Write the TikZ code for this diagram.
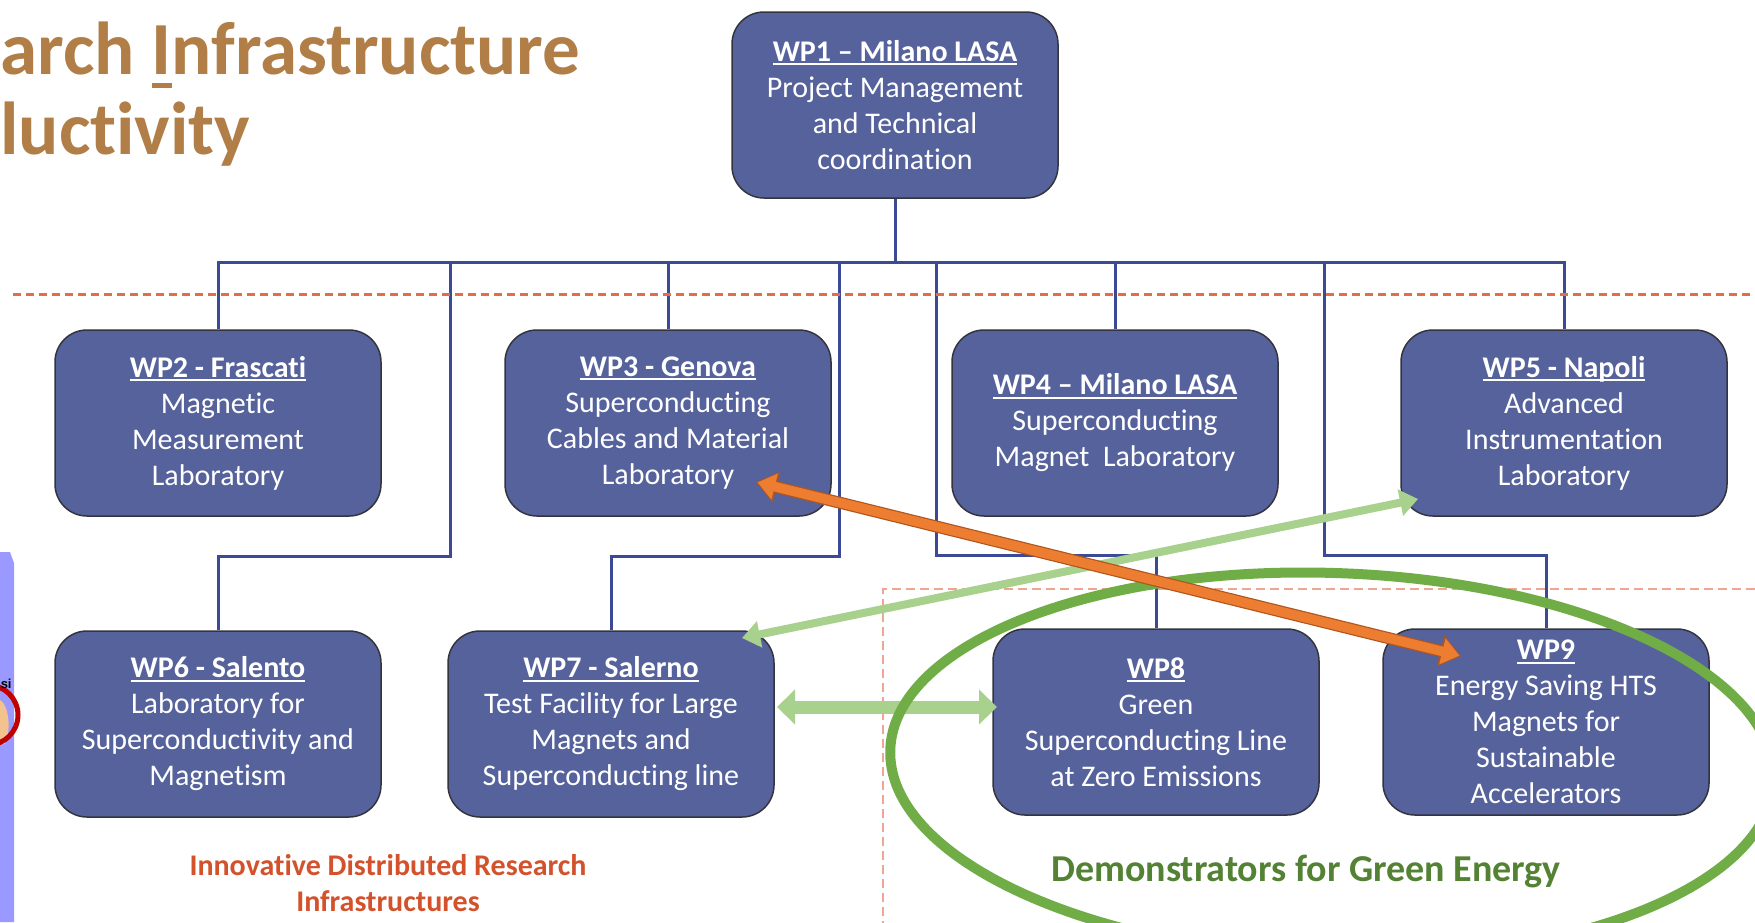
\documentclass[tikz,border=0pt]{standalone}
\usepackage{fontspec}
\setmainfont{Carlito}[Ligatures=NoCommon, Contextuals=NoAlternate]
\newfontfamily\labelsans{Liberation Sans}
\usetikzlibrary{arrows.meta}

\definecolor{boxfill}{RGB}{86,98,156}
\definecolor{boxedge}{RGB}{52,52,62}
\definecolor{connblue}{RGB}{58,74,150}
\definecolor{titlebrown}{RGB}{176,126,70}
\definecolor{dashred}{RGB}{226,110,70}
\definecolor{dashsalmon}{RGB}{240,165,145}
\definecolor{ringgreen}{RGB}{112,173,71}
\definecolor{palegreen}{RGB}{169,209,142}
\definecolor{arroworange}{RGB}{237,125,49}
\definecolor{arrowedge}{RGB}{175,85,30}
\definecolor{textgreen}{RGB}{84,130,53}
\definecolor{textorange}{RGB}{211,82,44}
\definecolor{lavender}{RGB}{153,153,255}
\definecolor{ringred}{RGB}{192,0,0}
\definecolor{peach}{RGB}{244,194,140}

% underlined bold header of a work package
\newsavebox\hdbox
\newcommand\wphead[1]{\sbox\hdbox{\bfseries #1}\rlap{\rule[-2pt]{\wd\hdbox}{1.1pt}}\usebox\hdbox}
% heavy underline under a single title letter
\newcommand\ulglyph[1]{\sbox\hdbox{#1}\rlap{\rule[-7pt]{\wd\hdbox}{2.4pt}}\usebox\hdbox}

\tikzset{
  wpbox/.style={draw=boxedge, line width=0.75pt, fill=boxfill, rounded corners=16pt,
    minimum width=163pt, minimum height=93pt, align=center, text=white, inner sep=0pt,
    font=\fontsize{15}{18}\selectfont},
  conn/.style={draw=connblue, line width=1.5pt},
  titletext/.style={inner sep=0pt, text=titlebrown, font=\fontsize{37.5}{40}\selectfont\bfseries},
  rowdash/.style={draw=dashred, line width=1.5pt, dash pattern=on 4pt off 2.5pt},
  groupdash/.style={draw=dashsalmon, line width=1.1pt, dash pattern=on 4.5pt off 2.5pt},
  ring/.style={draw=ringgreen, line width=5pt},
  thinlink/.style={draw=palegreen, line width=4pt, >={Triangle[length=9pt,width=13pt]}, <->},
  widelink/.style={draw=palegreen, line width=6.5pt, >={Triangle[length=9pt,width=17pt]}, <->},
  swapedge/.style={draw=arrowedge, line width=6pt, >={Triangle[length=10.5pt,width=15pt]}, <->},
  swapfill/.style={draw=arroworange, line width=4.8pt, >={Triangle[length=8.8pt,width=12.8pt]}, <->,
    shorten <=0.8pt, shorten >=0.8pt}
}

\begin{document}
\begin{tikzpicture}[x=0.5pt, y=-0.5pt]
\useasboundingbox (0,0) rectangle (1755,922);
\fill[white] (0,0) rectangle (1755,922);

% title fragment at the top left
\node[titletext, anchor=base west] (title1) at (0,74) {arch \ulglyph{I}nfrastructure};
\node[titletext, anchor=base west] (title2) at (0,154) {luctivity};

% strip at the left edge
\fill[lavender] (0,552) -- (10,552) -- (14,563) -- (14,922) -- (0,922) -- cycle;
\fill[peach] (0,700) .. controls (8,704) and (12,728) .. (5,744) -- (0,744) -- cycle;
\draw[ringred, line width=2.5pt] (-12,715) circle (30);
\node[anchor=base east, inner sep=0pt, font=\labelsans\fontsize{6.5}{7}\selectfont\bfseries] (pisa) at (12,688) {si};

% work packages
\node[wpbox] (wp1) at (895,105) {\wphead{WP1 – Milano LASA}\\Project Management\\and Technical\\coordination};
\node[wpbox] (wp2) at (218,423) {\wphead{WP2 - Frascati}\\Magnetic\\Measurement\\Laboratory};
\node[wpbox] (wp3) at (668,423) {\wphead{WP3 - Genova}\\Superconducting\\Cables and Material\\Laboratory};
\node[wpbox] (wp4) at (1115,423) {\wphead{WP4 – Milano LASA}\\Superconducting\\Magnet~ Laboratory};
\node[wpbox] (wp5) at (1564,423) {\wphead{WP5 - Napoli}\\Advanced\\Instrumentation\\Laboratory};
\node[wpbox] (wp6) at (218,724) {\wphead{WP6 - Salento}\\Laboratory for\\Superconductivity and\\Magnetism};
\node[wpbox] (wp7) at (611,724) {\wphead{WP7 - Salerno}\\Test Facility for Large\\Magnets and\\Superconducting line};
\node[wpbox] (wp8) at (1156,722) {\wphead{WP8}\\Green\\Superconducting Line\\at Zero Emissions};
\node[wpbox] (wp9) at (1546,722) {\wphead{WP9}\\Energy Saving HTS\\Magnets for\\Sustainable\\Accelerators};

% tree of connectors
\coordinate (hub) at (895,262);
\draw[conn] (wp1.south) -- (hub);
\draw[conn] (hub) -| (wp2.north);
\draw[conn] (hub) -| (wp3.north);
\draw[conn] (hub) -| (wp4.north);
\draw[conn] (hub) -| (wp5.north);
\draw[conn] (hub) -| (450,556) -| (wp6.north);
\draw[conn] (hub) -| (839,556) -| (wp7.north);
\draw[conn] (hub) -| (936,555) -| (wp8.north);
\draw[conn] (hub) -| (1324,555) -| (wp9.north);

% dashed separators
\coordinate (rowL) at (13,294);
\coordinate (rowR) at (1760,294);
\draw[rowdash] (rowL) -- (rowR);
\coordinate (grpB) at (883,930);
\coordinate (grpC) at (883,589);
\coordinate (grpR) at (1760,589);
\draw[groupdash] (grpB) -- (grpC) -- (grpR);

% group captions
\node[align=center, inner sep=0pt, text=textorange, font=\fontsize{15}{18}\selectfont\bfseries] (infra) at (388,883) {Innovative Distributed Research\\Infrastructures};
\node[anchor=base, inner sep=0pt, text=textgreen, font=\fontsize{19}{22}\selectfont\bfseries] (demo) at (1306,881) {Demonstrators for Green Energy};

% links between work packages
\coordinate (w7r) at (777,707);
\coordinate (w8l) at (997,707);
\draw[widelink] (w7r) -- (w8l);

\draw[ring, rotate around={-2:(1332,765)}] (1332,765) ellipse [x radius=442, y radius=192];

\coordinate (w7t) at (742,638);
\coordinate (w5b) at (1418,499);
\draw[thinlink] (w7t) -- (w5b);

\coordinate (w3in) at (756,482);
\coordinate (w9in) at (1461,656);
\draw[swapedge] (w3in) -- (w9in);
\draw[swapfill] (w3in) -- (w9in);
\end{tikzpicture}
\end{document}
